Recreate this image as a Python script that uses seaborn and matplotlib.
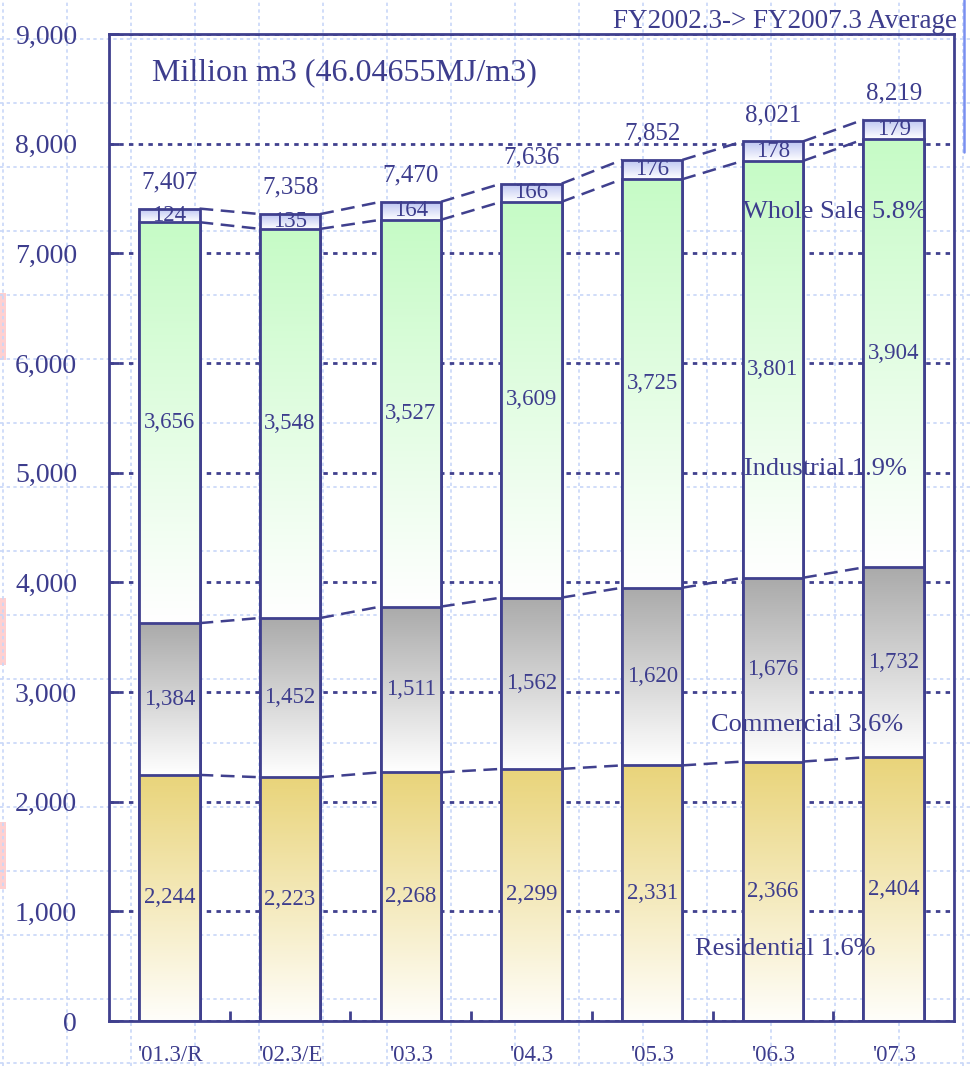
import numpy as np
import pandas as pd
import matplotlib
matplotlib.use("Agg")
import matplotlib.pyplot as plt
from matplotlib.colors import LinearSegmentedColormap
from matplotlib.patches import Rectangle
import seaborn as sns

# ---- data -------------------------------------------------------------
years = ["'01.3/R", "'02.3/E", "'03.3", "'04.3", "'05.3", "'06.3", "'07.3"]
residential = [2244, 2223, 2268, 2299, 2331, 2366, 2404]
commercial = [1384, 1452, 1511, 1562, 1620, 1676, 1732]
industrial = [3656, 3548, 3527, 3609, 3725, 3801, 3904]
wholesale = [124, 135, 164, 166, 176, 178, 179]
totals = [7407, 7358, 7470, 7636, 7852, 8021, 8219]

segment_names = ["Residential", "Commercial", "Industrial", "Whole Sale"]
growth_rates = ["1.6%", "3.6%", "1.9%", "5.8%"]
y_ticks = [0, 1000, 2000, 3000, 4000, 5000, 6000, 7000, 8000, 9000]

unit_label = "Million m3 (46.04655MJ/m3)"
period_label = "FY2002.3-> FY2007.3 Average"

# ---- style ------------------------------------------------------------
sns.set_theme(style="white")
plt.rcParams["font.family"] = ["Liberation Serif", "DejaVu Serif"]

INK = "#3d3d8d"
EDGE = "#40408e"
top_colors = ["#e9d47a", "#aaaaaa", "#c6fbc6", "#bcc4f2"]
bottom_colors = ["#fffefa", "#ffffff", "#ffffff", "#ffffff"]

df = pd.DataFrame({"year": years, "Residential": residential,
                   "Commercial": commercial, "Industrial": industrial,
                   "Whole Sale": wholesale})
cum = df[segment_names].cumsum(axis=1)
cum.columns = [f"top_{n}" for n in segment_names]
df = pd.concat([df, cum], axis=1)

fig = plt.figure(figsize=(9.71, 10.66), dpi=100)

# page background: light dotted grid, side tabs and a rule at the top right
bg = fig.add_axes([0, 0, 1, 1], zorder=0)
bg.set_xlim(0, 971)
bg.set_ylim(1066, 0)
bg.axis("off")
for gx in np.arange(3, 971, 64):
    bg.axvline(gx, color="#c8d7f8", lw=1.2, ls=(0, (2, 2)))
for gy in np.arange(39, 1066, 64):
    bg.axhline(gy, color="#c8d7f8", lw=1.2, ls=(0, (2, 2)))
for y0 in (293, 598, 822):
    bg.add_patch(Rectangle((0, y0), 6, 67, color="#ffd0d0", lw=0))
bg.plot([964, 964], [0, 152], color="#7a90f0", lw=1.8)

# ---- main chart -------------------------------------------------------
ax = fig.add_axes([0.11226, 0.0422, 0.87023, 0.9259], zorder=1)
ax.set_facecolor("none")

BAR_W = 0.5
layers = list(range(len(segment_names)))[::-1]  # tallest cumulative first
for rank, k in enumerate(layers):
    z = 2 + rank
    col = f"top_{segment_names[k]}"
    lower = df[f"top_{segment_names[k-1]}"] if k > 0 else pd.Series(0, index=df.index)
    n0 = len(ax.patches)
    sns.barplot(data=df, x="year", y=col, order=years, color="white",
                saturation=1, width=BAR_W, edgecolor=EDGE, linewidth=2,
                errorbar=None, ax=ax, zorder=z)
    cmap = LinearSegmentedColormap.from_list(
        f"g{k}", [bottom_colors[k], top_colors[k]])
    grad = np.linspace(0, 1, 256).reshape(-1, 1)
    for i, patch in enumerate(ax.patches[n0:]):
        patch.set_facecolor("none")
        x0 = patch.get_x()
        x1 = x0 + patch.get_width()
        lo, hi = lower.iloc[i], df[col].iloc[i]
        im = ax.imshow(grad, cmap=cmap, origin="lower", aspect="auto",
                       extent=[x0, x1, lo, hi], interpolation="bilinear",
                       zorder=z - 0.05)
        im.set_clip_path(patch)

# dashed links between neighbouring segment tops
for k in range(len(segment_names)):
    c = df[f"top_{segment_names[k]}"].values
    for i in range(len(years) - 1):
        ax.plot([i + BAR_W / 2, i + 1 - BAR_W / 2], [c[i], c[i + 1]],
                color=EDGE, lw=1.8, ls=(0, (5.5, 3)), zorder=7)

# segment values
for k, name in enumerate(segment_names):
    lower = df[f"top_{segment_names[k-1]}"] if k > 0 else pd.Series(0, index=df.index)
    for i, v in enumerate(df[name]):
        ax.text(i, lower.iloc[i] + v / 2, f"{v:,}", ha="center", va="center",
                fontsize=16.5, color=INK, zorder=9)

# totals above bars
for i, t in enumerate(totals):
    ax.annotate(f"{t:,}", (i, df[f"top_{segment_names[-1]}"].iloc[i]),
                xytext=(0, 19), textcoords="offset points", ha="center",
                va="center", fontsize=18, color=INK, zorder=9)

# growth-rate captions
caption_pos = [(4.355, 602), (4.488, 2644), (4.761, 4979), (4.753, 7322)]
for (cx, cy), name, rate in zip(caption_pos, segment_names, growth_rates):
    ax.text(cx, cy, f"{name} {rate}", ha="left", va="baseline",
            fontsize=19, color=INK, zorder=10)

ax.text(-0.146, 8580, unit_label, ha="left", va="baseline", fontsize=23,
        color=INK, zorder=10)
ax.text(6.526, 9054, period_label, ha="right", va="baseline", fontsize=19.5,
        color=INK, zorder=10, clip_on=False)

# axes
ax.set_xlim(-0.5, len(years) - 0.5)
ax.set_ylim(0, 9000)
ax.set_yticks(y_ticks)
ax.set_yticklabels([f"{v:,}" for v in y_ticks])
ax.set_xticks(range(len(years)))
ax.set_xticklabels(years)
ax.set_xticks(np.arange(0.5, len(years) - 1), minor=True)
ax.set_xlabel("")
ax.set_ylabel("")

ax.set_axisbelow(True)
ax.yaxis.grid(True, color=EDGE, lw=2, ls=(0, (1.6, 1.9)))
ax.xaxis.grid(False)

ax.tick_params(axis="y", which="major", direction="in", length=7, width=2,
               color=EDGE, pad=23, labelsize=20, labelcolor=INK, left=True)
ax.tick_params(axis="x", which="major", length=0, pad=17, labelsize=16.5,
               labelcolor=INK, bottom=True)
ax.tick_params(axis="x", which="minor", direction="in", length=7, width=2,
               color=EDGE, bottom=True)

for side in ("left", "right", "top", "bottom"):
    ax.spines[side].set_visible(True)
    ax.spines[side].set_color(EDGE)
    ax.spines[side].set_linewidth(2)
    ax.spines[side].set_zorder(8)

fig.savefig("out.png", dpi=100)
